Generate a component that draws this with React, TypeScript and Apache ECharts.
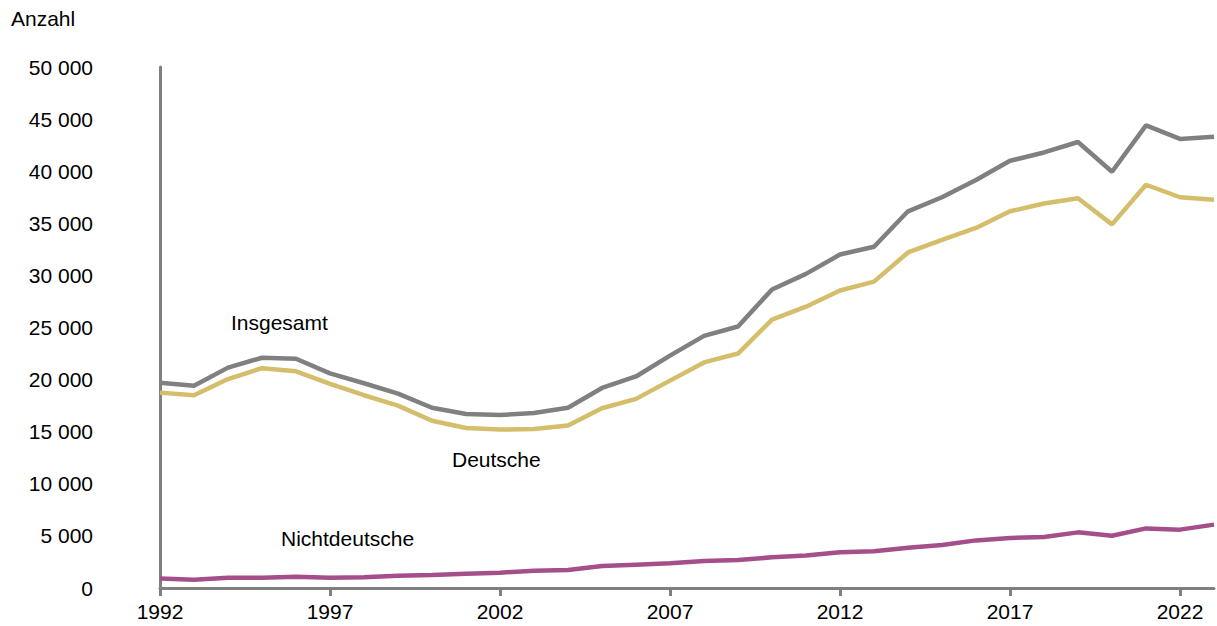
import React, { useEffect, useRef } from "react";
import * as echarts from "echarts";

const years: string[] = [];
for (let y = 1992; y <= 2023; y++) years.push(String(y));

const insgesamt = [19700, 19400, 21150, 22100, 22000, 20600, 19650, 18650, 17300, 16700, 16600, 16800, 17300, 19200, 20300, 22300, 24200, 25100, 28650, 30150, 32000, 32750, 36150, 37500, 39150, 41000, 41800, 42800, 39950, 44400, 43100, 43300];
const deutsche = [18750, 18500, 20050, 21100, 20800, 19600, 18500, 17500, 16050, 15350, 15200, 15250, 15600, 17250, 18150, 19900, 21650, 22500, 25750, 27000, 28550, 29400, 32200, 33400, 34550, 36150, 36900, 37400, 34900, 38700, 37500, 37250];
const nichtdeutsche = [900, 800, 990, 990, 1080, 990, 1020, 1180, 1250, 1370, 1470, 1660, 1730, 2110, 2240, 2370, 2590, 2690, 2940, 3130, 3420, 3520, 3870, 4130, 4570, 4800, 4890, 5340, 5020, 5720, 5600, 6080];

const FONT = "'Liberation Sans', Arial, sans-serif";

export default function App() {
  const ref = useRef<HTMLDivElement>(null);
  useEffect(() => {
    if (!ref.current) return;
    const chart = echarts.init(ref.current, undefined, { renderer: "svg" });
    const txt = { fontFamily: FONT, fontSize: 21, color: "#000" };
    chart.setOption({
      animation: false,
      backgroundColor: "#fff",
      grid: { left: 160, right: 3, top: 67, bottom: 38, containLabel: false },
      xAxis: {
        type: "category",
        data: years,
        boundaryGap: false,
        axisLine: { lineStyle: { color: "#808080", width: 3 } },
        axisTick: { show: true, interval: 4, length: 8, lineStyle: { color: "#808080", width: 3 } },
        axisLabel: { interval: 4, margin: 13, ...txt },
        splitLine: { show: false },
      },
      yAxis: {
        type: "value",
        min: 0,
        max: 50000,
        interval: 5000,
        axisLine: { show: true, lineStyle: { color: "#808080", width: 3 } },
        axisTick: { show: false },
        splitLine: { show: false },
        axisLabel: {
          margin: 67,
          ...txt,
          formatter: (v: number) => String(v).replace(/\B(?=(\d{3})+(?!\d))/g, " "),
        },
      },
      graphic: [
        { type: "text", left: 11, top: 8, style: { text: "Anzahl", font: `21px ${FONT}`, fill: "#000" } },
        { type: "text", left: 231, top: 312, style: { text: "Insgesamt", font: `21px ${FONT}`, fill: "#000" } },
        { type: "text", left: 452, top: 449, style: { text: "Deutsche", font: `21px ${FONT}`, fill: "#000" } },
        { type: "text", left: 281, top: 528, style: { text: "Nichtdeutsche", font: `21px ${FONT}`, fill: "#000" } },
      ],
      series: [
        { name: "Insgesamt", type: "line", data: insgesamt, symbol: "none", lineStyle: { color: "#808080", width: 4.5 }, z: 3 },
        { name: "Deutsche", type: "line", data: deutsche, symbol: "none", lineStyle: { color: "#D4BD6B", width: 4.5 }, z: 2 },
        { name: "Nichtdeutsche", type: "line", data: nichtdeutsche, symbol: "none", lineStyle: { color: "#A54F8A", width: 4.5 }, z: 2 },
      ],
    });
    return () => chart.dispose();
  }, []);
  return <div ref={ref} style={{ position: "fixed", left: 0, top: 0, width: 1217, height: 626 }} />;
}
